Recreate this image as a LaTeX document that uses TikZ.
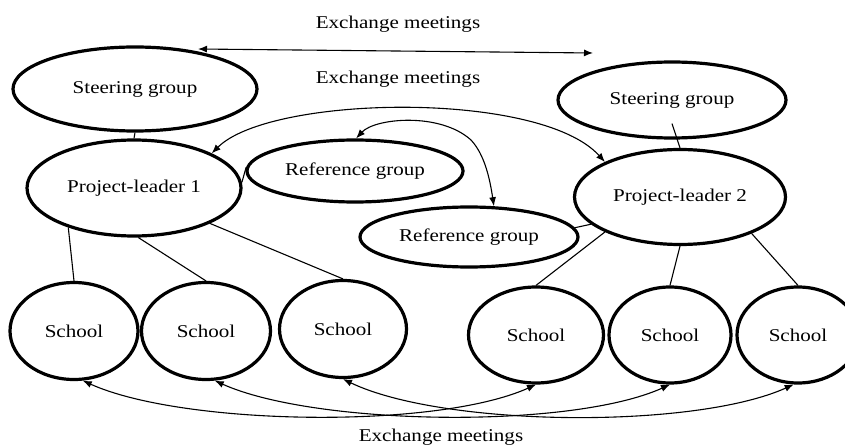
\documentclass[tikz,border=0pt]{standalone}
\usepackage{fontspec}
\setmainfont{Liberation Serif}[FakeStretch=1.17]
\usetikzlibrary{shapes.geometric,arrows.meta}
\begin{document}
\begin{tikzpicture}[x=1pt,y=-1pt,
  box/.style={ellipse,draw,line width=3.2pt,inner sep=0pt,font=\fontsize{18}{21}\selectfont},
  link/.style={line width=1.1pt},
  arr/.style={line width=1.1pt,{Latex[length=9pt,width=7pt]}-{Latex[length=9pt,width=7pt]}},
  lbl/.style={font=\fontsize{18}{21}\selectfont,inner sep=0pt}]
\useasboundingbox (0,0) rectangle (845,446);

% labels
\node[lbl] (t1) at (398,24) {Exchange meetings};
\node[lbl] (t2) at (398,79) {Exchange meetings};
\node[lbl] (t3) at (441,437) {Exchange meetings};

% upper nodes
\node[box,minimum width=244pt,minimum height=84pt] (sg1) at (135,89) {Steering group};
\node[box,minimum width=228pt,minimum height=76pt] (sg2) at (672,100) {Steering group};
\node[box,minimum width=214pt,minimum height=96pt] (pl1) at (134,188) {Project-leader 1};
\node[box,minimum width=216pt,minimum height=62pt] (ref1) at (355,171) {Reference group};
\node[box,minimum width=218pt,minimum height=60pt] (ref2) at (469,237) {Reference group};
\node[box,minimum width=211pt,minimum height=95pt] (pl2) at (680,197) {Project-leader 2};

% schools
\node[box,minimum width=128pt,minimum height=97pt] (s1) at (74,331) {School};
\node[box,minimum width=129pt,minimum height=97pt] (s2) at (206,331) {School};
\node[box,minimum width=127pt,minimum height=97pt] (s3) at (343,329) {School};
\node[box,minimum width=135pt,minimum height=96pt] (s4) at (536,335) {School};
\node[box,minimum width=122pt,minimum height=96pt] (s5) at (670,335) {School};
\node[box,minimum width=122pt,minimum height=96pt] (s6) at (798,335) {School};

% plain links
\draw[link] (sg1.south) -- (pl1.north);
\draw[link] ([yshift=16pt]sg2.south) -- (pl2.north);
\draw[link] (pl1.3) -- (ref1.178);
\draw[link] (ref2.5) -- (pl2.197);
\draw[link] (pl1.211) -- (s1.north);
\draw[link] (pl1.-85) -- (s2.north);
\draw[link] (pl1.-25) -- (s3.north);
\draw[link] (pl2.205) -- (s4.north);
\draw[link] (pl2.south) -- (s5.north);
\draw[link] (pl2.-27) -- (s6.north);

% exchange arrows
\coordinate (tl) at (198,49);
\coordinate (tr) at (593,53);
\draw[arr] (tl) -- (tr);
\draw[arr] (pl1.24) .. controls (270,95) and (540,90) .. (pl2.155);
\coordinate (rk) at (471,140);
\draw[arr] (ref1.88) .. controls (375,118) and (440,112) .. (rk)
   .. controls (485,155) and (490,180) .. (ref2.51);
\draw[arr] (s1.-80) .. controls +(100,45) and +(-100,45) .. (s4.south);
\draw[arr] (s2.-80) .. controls +(100,45) and +(-100,45) .. (s5.south);
\draw[arr] (s3.south) .. controls +(100,48) and +(-100,45) .. (s6.-95);
\end{tikzpicture}
\end{document}
